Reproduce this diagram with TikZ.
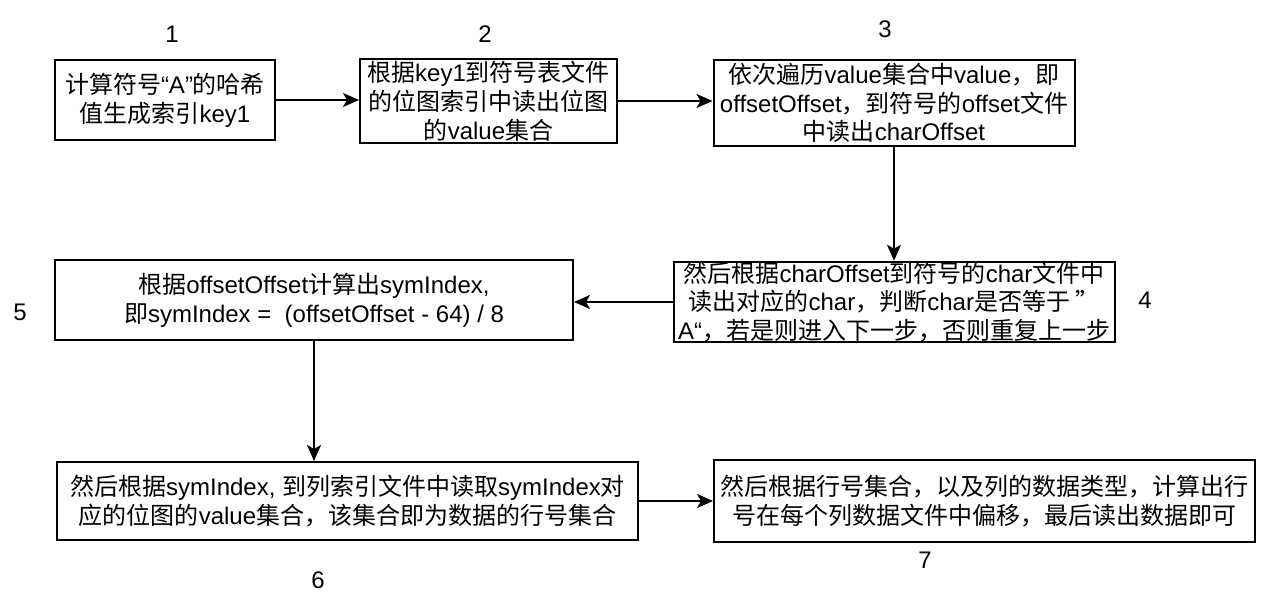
\documentclass[tikz,border=0pt]{standalone}
\usepackage{fontspec}
\setmainfont{Liberation Sans}
\newfontfamily\cjkfont{Noto Sans CJK SC}
\usetikzlibrary{arrows.meta}
\XeTeXinterchartokenstate=1
\newXeTeXintercharclass\CJKcls
\makeatletter
\def\setcjkrange#1#2{\count@=#1\relax
  \loop\XeTeXcharclass\count@=\CJKcls\relax
  \ifnum\count@<#2\relax\advance\count@ by 1\relax\repeat}
\makeatother
\setcjkrange{"4E00}{"9FFF}
\setcjkrange{"3000}{"303F}
\setcjkrange{"FF00}{"FFEF}
\XeTeXinterchartoks 0 \CJKcls = {\cjkfont}
\XeTeXinterchartoks 4095 \CJKcls = {\cjkfont}
\XeTeXinterchartoks \CJKcls 0 = {\rmfamily}
\begin{document}
\begin{tikzpicture}[x=1pt,y=-1pt,
  box/.style={draw=black, line width=2pt, fill=white, align=center, inner sep=0pt,
    font=\fontsize{24}{28.8}\selectfont},
  num/.style={font=\fontsize{24}{28.8}\selectfont},
  arr/.style={line width=2pt, -{Stealth[length=16pt,width=14pt,inset=4pt]}}]
\useasboundingbox (0,0) rectangle (1266,612);
\fill[white] (0,0) rectangle (1266,612);
\node[box, minimum width=220pt, minimum height=80pt] (b1) at (165,100) {计算符号“A"的哈希\\值生成索引key1};
\node[box, minimum width=257pt, minimum height=84pt] (b2) at (488.5,101) {根据key1到符号表文件\\的位图索引中读出位图\\的value集合};
\node[box, minimum width=361pt, minimum height=86pt] (b3) at (894,103) {依次遍历value集合中value，即\\offsetOffset，到符号的offset文件\\中读出charOffset};
\node[box, minimum width=441pt, minimum height=80pt] (b4) at (894,302) {然后根据charOffset到符号的char文件中\\读出对应的char，判断char是否等于 ”\\A“，若是则进入下一步，否则重复上一步};
\node[box, minimum width=518pt, minimum height=80pt] (b5) at (314,300) {根据offsetOffset计算出symIndex,\\即symIndex =\ \ (offsetOffset - 64) / 8};
\node[box, minimum width=581pt, minimum height=78pt] (b6) at (347.5,501) {然后根据symIndex, 到列索引文件中读取symIndex对\\应的位图的value集合，该集合即为数据的行号集合};
\node[box, minimum width=541pt, minimum height=82pt] (b7) at (984.5,501) {然后根据行号集合，以及列的数据类型，计算出行\\号在每个列数据文件中偏移，最后读出数据即可};
\node[num] (n1) at (172,34) {1};
\node[num] (n2) at (485,34) {2};
\node[num] (n3) at (885,29) {3};
\node[num] (n4) at (1145,300) {4};
\node[num] (n5) at (20,312) {5};
\node[num] (n6) at (318,580) {6};
\node[num] (n7) at (925,560) {7};
\draw[arr] (b1.east) -- (b1.east -| b2.west);
\draw[arr] (b2.east) -- (b2.east -| b3.west);
\draw[arr] (b3.south) -- (b3.south |- b4.north);
\draw[arr] (b4.west) -- (b4.west -| b5.east);
\draw[arr] (b5.south) -- (b5.south |- b6.north);
\draw[arr] (b6.east) -- (b6.east -| b7.west);
\end{tikzpicture}
\end{document}
